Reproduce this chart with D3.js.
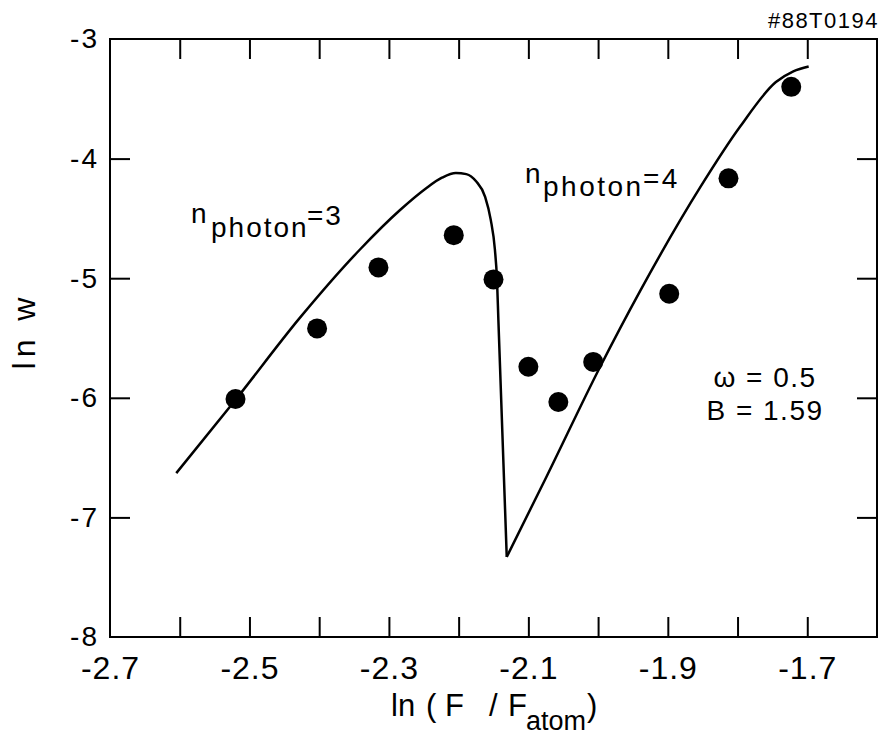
<!DOCTYPE html>
<html>
<head>
<meta charset="utf-8">
<script src="https://cdn.jsdelivr.net/npm/d3@7"></script>
<style>
  body { margin: 0; background: #fff; }
  text { font-family: "Liberation Sans", Arial, Helvetica, sans-serif; fill: #000; }
</style>
</head>
<body>
<svg id="chart" width="884" height="737"></svg>
<script>
// measured points
const pointX = [-2.52, -2.403, -2.315, -2.207, -2.15, -2.10, -2.057, -2.007, -1.898, -1.813, -1.723];
const pointY = [-6.01, -5.42, -4.91, -4.64, -5.01, -5.74, -6.035, -5.70, -5.13, -4.165, -3.40];

// theory curve, n_photon = 3 branch
const curve3X = [-2.605, -2.519, -2.4275, -2.3415, -2.284, -2.247, -2.224, -2.204, -2.189, -2.175, -2.162, -2.154, -2.148, -2.145, -2.143, -2.131];
const curve3Y = [-6.63, -6.01, -5.33, -4.76, -4.43, -4.25, -4.16, -4.12, -4.13, -4.19, -4.32, -4.51, -4.76, -5.01, -5.35, -7.33];

// theory curve, n_photon = 4 branch
const curve4X = [-2.131, -2.074, -1.997, -1.94, -1.853, -1.796, -1.745, -1.72, -1.698];
const curve4Y = [-7.33, -6.66, -5.74, -5.11, -4.235, -3.73, -3.36, -3.27, -3.23];

// axes
const xTicks = [-2.6, -2.5, -2.4, -2.3, -2.2, -2.1, -2.0, -1.9, -1.8, -1.7];
const xTickLabels = [-2.7, -2.5, -2.3, -2.1, -1.9, -1.7];
const yTicks = [-4, -5, -6, -7];
const yTickLabels = [-3, -4, -5, -6, -7, -8];

const svg = d3.select("#chart");
const plotLeft = 110, plotRight = 877, plotTop = 39, plotBottom = 637;

const x = d3.scaleLinear().domain([-2.7, -1.6]).range([plotLeft, plotRight]);
const y = d3.scaleLinear().domain([-3, -8]).range([plotTop, plotBottom]);

const noDomain = g => g.select(".domain").remove();
const tickStyle = g => g.selectAll("line").attr("stroke", "#000").attr("stroke-width", 2);

// inward ticks on all four sides
svg.append("g").attr("transform", `translate(0,${plotBottom})`)
  .call(d3.axisBottom(x).tickValues(xTicks).tickSize(-20).tickFormat(""))
  .call(noDomain).call(tickStyle);
svg.append("g").attr("transform", `translate(0,${plotTop})`)
  .call(d3.axisTop(x).tickValues(xTicks).tickSize(-20).tickFormat(""))
  .call(noDomain).call(tickStyle);
svg.append("g").attr("transform", `translate(${plotLeft},0)`)
  .call(d3.axisLeft(y).tickValues(yTicks).tickSize(-20).tickFormat(""))
  .call(noDomain).call(tickStyle);
svg.append("g").attr("transform", `translate(${plotRight},0)`)
  .call(d3.axisRight(y).tickValues(yTicks).tickSize(-20).tickFormat(""))
  .call(noDomain).call(tickStyle);

// tick labels
svg.append("g").attr("transform", `translate(0,${plotBottom})`)
  .call(d3.axisBottom(x).tickValues(xTickLabels).tickSize(0).tickPadding(19).tickFormat(d => d.toFixed(1)))
  .call(noDomain)
  .call(g => g.selectAll("text").style("font-size", "32px").style("letter-spacing", "1px"));
svg.append("g").attr("transform", `translate(${plotLeft},0)`)
  .call(d3.axisLeft(y).tickValues(yTickLabels).tickSize(0).tickPadding(11).tickFormat(d => String(d)))
  .call(noDomain)
  .call(g => g.selectAll("text").style("font-size", "28px").style("letter-spacing", "2px"));

// frame
svg.append("rect")
  .attr("x", plotLeft).attr("y", plotTop)
  .attr("width", plotRight - plotLeft).attr("height", plotBottom - plotTop)
  .attr("fill", "none").attr("stroke", "#000").attr("stroke-width", 2);

// theory curves
const line = d3.line().x(d => x(d[0])).y(d => y(d[1])).curve(d3.curveMonotoneX);
[[curve3X, curve3Y], [curve4X, curve4Y]].forEach(([cx, cy]) => {
  svg.append("path")
    .datum(cx.map((v, i) => [v, cy[i]]))
    .attr("d", line)
    .attr("fill", "none")
    .attr("stroke", "#000")
    .attr("stroke-width", 2.5)
    .attr("stroke-linejoin", "round");
});

// data points
svg.selectAll("circle.pt")
  .data(pointX.map((v, i) => [v, pointY[i]]))
  .enter()
  .append("circle")
  .attr("class", "pt")
  .attr("cx", d => x(d[0]))
  .attr("cy", d => y(d[1]))
  .attr("r", 10)
  .attr("fill", "#000");

// labels
svg.append("text")
  .attr("x", 879).attr("y", 28)
  .attr("text-anchor", "end")
  .style("font-size", "22px").style("letter-spacing", "1.5px")
  .text("#88T0194");

const photon3 = svg.append("text").style("font-size", "28px").style("letter-spacing", "2px");
photon3.append("tspan").attr("x", 191).attr("y", 223).text("n");
photon3.append("tspan").attr("x", 211).attr("y", 237).text("photon");
photon3.append("tspan").attr("x", 307).attr("y", 225).text("=3");

const photon4 = svg.append("text").style("font-size", "28px").style("letter-spacing", "2.5px");
photon4.append("tspan").attr("x", 525).attr("y", 183).text("n");
photon4.append("tspan").attr("x", 543).attr("y", 196).text("photon");
photon4.append("tspan").attr("x", 643).attr("y", 188).text("=4");

svg.append("text")
  .attr("x", 765).attr("y", 387)
  .attr("text-anchor", "middle")
  .style("font-size", "28px").style("letter-spacing", "1.5px")
  .text("\u03c9 = 0.5");
svg.append("text")
  .attr("x", 765).attr("y", 420)
  .attr("text-anchor", "middle")
  .style("font-size", "28px").style("letter-spacing", "1.5px")
  .text("B = 1.59");

// axis titles
svg.append("text")
  .attr("transform", "translate(35,331) rotate(-90)")
  .attr("text-anchor", "middle")
  .style("font-size", "32px").style("letter-spacing", "5px")
  .text("ln w");

const xTitle = svg.append("text").style("font-size", "31px");
xTitle.append("tspan").attr("x", 391).attr("y", 716).text("ln");
xTitle.append("tspan").attr("x", 426).attr("y", 716).text("(");
xTitle.append("tspan").attr("x", 445).attr("y", 716).text("F");
xTitle.append("tspan").attr("x", 489).attr("y", 716).text("/");
xTitle.append("tspan").attr("x", 508).attr("y", 716).text("F");
xTitle.append("tspan").attr("x", 526).attr("y", 730).style("font-size", "27px").text("atom");
xTitle.append("tspan").attr("x", 587).attr("y", 716).text(")");
</script>
</body>
</html>
